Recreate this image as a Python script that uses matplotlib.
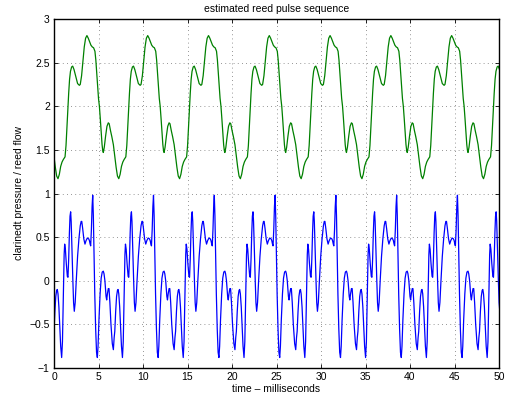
import numpy as np
import matplotlib
matplotlib.use("Agg")
import matplotlib.pyplot as plt

plt.rcParams['font.family'] = ['Liberation Sans', 'DejaVu Sans']

# one period of each waveform (phase in ms, value)
period_ms = 6.83
t_end = 50.0

green_phase = [0.00, 0.15, 0.30, 0.45, 0.60, 0.75, 0.90, 1.05, 1.24, 1.35, 1.45, 1.55,
               1.65, 1.75, 1.85, 1.98, 2.10, 2.25, 2.45, 2.65, 2.85, 2.95, 3.10, 3.25,
               3.40, 3.55, 3.70, 3.85, 4.00, 4.15, 4.30, 4.45, 4.60, 4.70, 4.80, 4.90,
               5.00, 5.10, 5.20, 5.30, 5.40, 5.48, 5.54, 5.65, 5.80, 5.95, 6.10, 6.20,
               6.35, 6.50, 6.67, 6.78]
green_vals = [1.42, 1.30, 1.20, 1.17, 1.22, 1.31, 1.36, 1.39, 1.42, 1.55, 1.75, 1.95,
              2.15, 2.31, 2.40, 2.45, 2.46, 2.42, 2.34, 2.26, 2.24, 2.25, 2.35, 2.52,
              2.68, 2.78, 2.81, 2.78, 2.74, 2.70, 2.68, 2.67, 2.63, 2.53, 2.38, 2.23,
              2.09, 2.00, 1.86, 1.70, 1.56, 1.49, 1.47, 1.53, 1.66, 1.77, 1.81, 1.80,
              1.72, 1.65, 1.56, 1.47]

blue_phase = [0.00, 0.10, 0.20, 0.30, 0.37, 0.45, 0.55, 0.65, 0.75, 0.86, 0.95, 1.02,
              1.08, 1.14, 1.20, 1.28, 1.38, 1.50, 1.57, 1.65, 1.73, 1.80, 1.87, 1.93,
              2.02, 2.12, 2.20, 2.28, 2.38, 2.50, 2.65, 2.80, 2.95, 3.05, 3.12, 3.22,
              3.35, 3.48, 3.60, 3.75, 3.90, 3.98, 4.06, 4.12, 4.20, 4.28, 4.35, 4.42,
              4.50, 4.58, 4.68, 4.78, 4.87, 4.95, 5.05, 5.18, 5.30, 5.42, 5.54, 5.62,
              5.72, 5.85, 5.92, 6.00, 6.10, 6.18, 6.28, 6.40, 6.55, 6.67, 6.76]
blue_vals = [-0.58, -0.35, -0.18, -0.11, -0.10, -0.15, -0.30, -0.52, -0.75, -0.88, -0.70, -0.35,
             0.00, 0.30, 0.42, 0.36, 0.20, 0.05, 0.04, 0.25, 0.55, 0.74, 0.79, 0.68,
             0.35, 0.00, -0.25, -0.35, -0.25, 0.00, 0.28, 0.48, 0.63, 0.68, 0.68, 0.60,
             0.48, 0.42, 0.46, 0.49, 0.48, 0.46, 0.42, 0.40, 0.58, 0.85, 0.98, 0.75,
             0.30, -0.15, -0.55, -0.82, -0.88, -0.75, -0.45, -0.15, 0.03, 0.10, 0.11, 0.08,
             0.00, -0.18, -0.22, -0.15, -0.09, -0.09, -0.25, -0.50, -0.72, -0.79, -0.65]

x_ticks = [0, 5, 10, 15, 20, 25, 30, 35, 40, 45, 50]
y_ticks = [-1, -0.5, 0, 0.5, 1, 1.5, 2, 2.5, 3]
y_ticklabels = ['\u22121', '\u22120.5', '0', '0.5', '1', '1.5', '2', '2.5', '3']


def repeat_period(phase, vals):
    t, v = [], []
    k = 0
    while k * period_ms <= t_end + period_ms:
        for p, y in zip(phase, vals):
            t.append(p + k * period_ms)
            v.append(y)
        k += 1
    t = np.array(t)
    v = np.array(v)
    m = t <= t_end + 0.2
    return t[m], v[m]


tg, vg = repeat_period(green_phase, green_vals)
tb, vb = repeat_period(blue_phase, blue_vals)

fig = plt.figure(figsize=(5.08, 4.0), dpi=100)
ax = fig.add_axes([54 / 508, 1 - 368 / 400, 445 / 508, 349 / 400])
ax.plot(tg, vg, color='#008000', lw=0.9)
ax.plot(tb, vb, color='#0000ff', lw=0.9)

ax.set_xlim(0, 50)
ax.set_ylim(-1, 3)
ax.set_xticks(x_ticks)
ax.set_yticks(y_ticks)
ax.set_yticklabels(y_ticklabels)
ax.grid(True, color='0.45', linestyle=(0, (1, 4)), lw=0.6)
ax.tick_params(direction='in', top=True, right=True, labelsize=7.5, length=3, width=0.6, pad=3)
for s in ax.spines.values():
    s.set_linewidth(1.0)

ax.set_title('estimated reed pulse sequence', fontsize=7.5, pad=5)
ax.set_xlabel('time \u2013 milliseconds', fontsize=7.5, labelpad=1)
ax.set_ylabel('clarinedt pressure / reed flow', fontsize=7.5, labelpad=4)

fig.savefig('out.png', dpi=100)
